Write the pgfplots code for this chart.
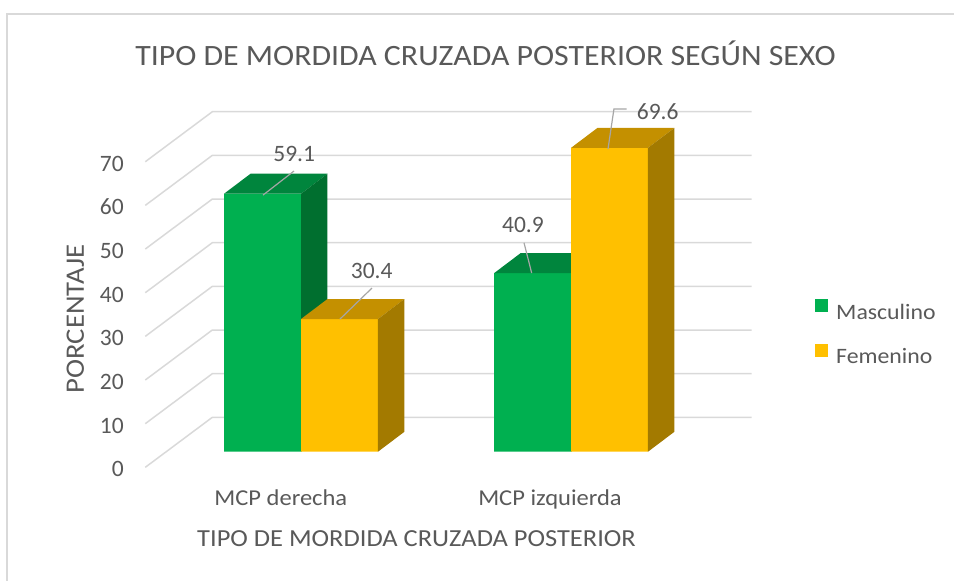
\documentclass[border=0pt]{standalone}
\usepackage{fontspec}
\setmainfont{Carlito}
\newfontfamily\wide{Carlito}[FakeStretch=1.08]
\usepackage{pgfplots}
\usepackage{pgfplotstable}
\pgfplotsset{compat=1.18}
\definecolor{mgreen}{HTML}{00B050}
\definecolor{mgreentop}{HTML}{00853D}
\definecolor{mgreenside}{HTML}{006F2F}
\definecolor{fyellow}{HTML}{FFC000}
\definecolor{fyellowtop}{HTML}{C49000}
\definecolor{fyellowside}{HTML}{A37A00}
\definecolor{gridc}{HTML}{D9D9D9}
\definecolor{txt}{HTML}{595959}
\definecolor{leader}{HTML}{A6A6A6}

% data: category, Masculino, Femenino (percent)
\pgfplotstableread{
cat masc fem
0 59.1 30.4
1 40.9 69.6
}\datatable

% oblique 3D faces (a: x offset, b: multiplier of value, c: depth rise)
\pgfplotstableread{
a b c
0 1 0
0.0981 1 4.58
0.3831 1 4.58
0.285 1 0
}\topshape
\pgfplotstableread{
a b c
0.285 0 0
0.3831 0 4.58
0.3831 1 4.58
0.285 1 0
}\sideshape
\pgfplotstableread{
a c
-0.5767 -3.57
-0.3285 7.88
1.669 7.88
}\gridshape

\newcommand{\barfaces}[4]{%
 \addplot[fill=#3, draw=none, forget plot] table[x expr=#1+\thisrow{a}, y expr=#2*\thisrow{b}+\thisrow{c}] {\topshape};
 \addplot[fill=#4, draw=none, forget plot] table[x expr=#1+\thisrow{a}, y expr=#2*\thisrow{b}+\thisrow{c}] {\sideshape};
}
\pgfplotsset{sqlegend/.style={legend image code/.code={\fill[##1] (0bp,0bp) rectangle (13bp,13bp);}}}

\begin{document}
\begin{tikzpicture}
\useasboundingbox (-140bp,-111.8bp) rectangle (814bp,469.2bp);
\draw[gridc, line width=1.75bp] (-133bp,-120bp) -- (-133bp,455.2bp) -- (820bp,455.2bp);
\begin{axis}[
 at={(0,0)}, anchor=south west,
 scale only axis, width=620bp, height=368.9bp,
 xmin=-0.5963, xmax=1.7, ymin=-4, ymax=80.5,
 enlargelimits=false,
 clip=false,
 axis line style={draw=none},
 major tick length=0pt,
 xtick={-0.0748,0.9222}, xticklabels={MCP derecha, MCP izquierda},
 ytick={-3.57,6.43,16.43,26.43,36.43,46.43,56.43,66.43},
 yticklabels={0,10,20,30,40,50,60,70},
 xticklabel style={anchor=base, yshift=-35.8bp, inner sep=0pt, font=\wide\fontsize{22.7bp}{27bp}\selectfont, text=txt},
 yticklabel style={anchor=base east, yshift=-9.5bp, xshift=-16bp, inner sep=0pt, font=\fontsize{23.5bp}{28bp}\selectfont, text=txt},
 title={TIPO DE MORDIDA CRUZADA POSTERIOR SEGÚN SEXO},
 title style={at={(axis description cs:0.5573,1.0794)}, anchor=base, inner sep=0pt, font=\wide\fontsize{29.5bp}{35bp}\selectfont, text=txt},
 xlabel={TIPO DE MORDIDA CRUZADA POSTERIOR},
 xlabel style={at={(axis description cs:0.446,-0.2082)}, anchor=base, inner sep=0pt, font=\wide\fontsize{24.5bp}{30bp}\selectfont, text=txt},
 ylabel={PORCENTAJE},
 ylabel style={at={(axis description cs:-0.0904,0.4072)}, anchor=base, inner sep=0pt, font=\wide\fontsize{26.6bp}{31bp}\selectfont, text=txt},
 legend cell align=left,
 legend style={at={(axis description cs:1.0887,0.4613)}, anchor=north west, draw=none, fill=none, inner sep=0pt,
   font=\wide\fontsize{22bp}{26bp}\selectfont, text=txt, row sep=23bp,
   nodes={inner sep=0pt},
   /tikz/every odd column/.append style={column sep=8bp}},
]
% gridlines (floor diagonal + back wall)
\pgfplotsinvokeforeach{0,10,20,30,40,50,60,70}{
 \addplot[gridc, line width=1.5bp, forget plot] table[x=a, y expr=#1+\thisrow{c}] {\gridshape};
}
% Masculino
\addplot[ybar, bar width=0.285, bar shift=-0.1425, fill=mgreen, draw=none, sqlegend] table[x=cat, y=masc] {\datatable};
\addlegendentry{Masculino}
\barfaces{-0.285}{59.1}{mgreentop}{mgreenside}
\barfaces{0.715}{40.9}{mgreentop}{mgreenside}
% Femenino
\addplot[ybar, bar width=0.285, bar shift=0.1425, fill=fyellow, draw=none, sqlegend] table[x=cat, y=fem] {\datatable};
\addlegendentry{Femenino}
\barfaces{0}{30.4}{fyellowtop}{fyellowside}
\barfaces{1}{69.6}{fyellowtop}{fyellowside}
% leader lines
\addplot[leader, line width=1.2bp, forget plot] coordinates {(-0.1407,58.79) (-0.0259,64.3)};
\addplot[leader, line width=1.2bp, forget plot] coordinates {(0.1444,30.39) (0.263,37.5)};
\addplot[leader, line width=1.2bp, forget plot] coordinates {(0.8544,40.93) (0.8259,47.87)};
\addplot[leader, line width=1.2bp, forget plot] coordinates {(1.137,69.33) (1.159,78.5) (1.206,78.5)};
% data labels
\node[font=\fontsize{23.5bp}{28bp}\selectfont, text=txt] at (axis cs:-0.025,68.1) {59.1};
\node[font=\fontsize{23.5bp}{28bp}\selectfont, text=txt] at (axis cs:0.2618,41.5) {30.4};
\node[font=\fontsize{23.5bp}{28bp}\selectfont, text=txt] at (axis cs:0.8222,51.88) {40.9};
\node[font=\fontsize{23.5bp}{28bp}\selectfont, text=txt, anchor=west, inner sep=0pt] at (axis cs:1.2433,77.85) {69.6};
\end{axis}
\end{tikzpicture}
\end{document}
